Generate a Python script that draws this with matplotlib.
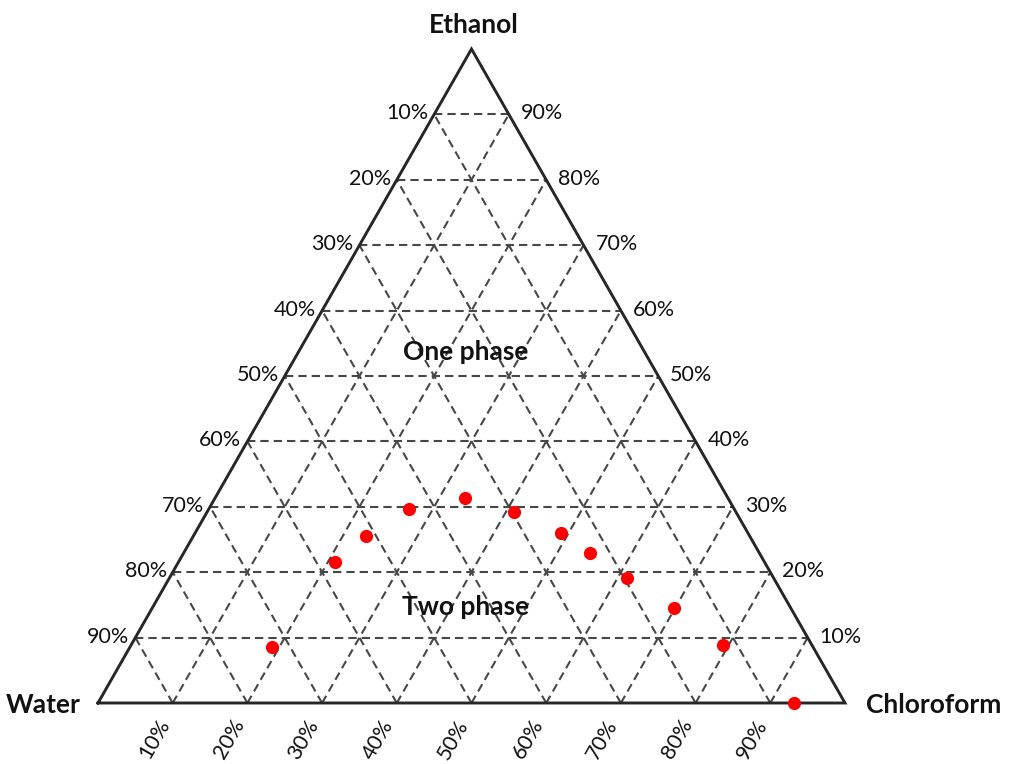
import matplotlib
matplotlib.use("Agg")
import matplotlib.pyplot as plt
from matplotlib.transforms import offset_copy

plt.rcParams['font.family'] = ['Lato', 'DejaVu Sans']

# Measured compositions (percent) of the binodal points
water = [72.4, 57.5, 51.4, 43.6, 35.2, 29.7, 25.0, 22.6, 19.6, 15.6, 11.9, 6.8]
ethanol = [8.6, 21.5, 25.5, 29.6, 31.3, 29.2, 26.0, 23.0, 19.1, 14.5, 8.8, 0.0]
chloroform = [19.0, 21.0, 23.1, 26.8, 33.5, 41.1, 49.0, 54.4, 61.3, 69.9, 79.3, 93.2]

grid_levels = [10, 20, 30, 40, 50, 60, 70, 80, 90]
tick_labels = [f"{v}%" for v in grid_levels]
components = {"top": "Ethanol", "left": "Water", "right": "Chloroform"}
regions = {"One phase": (22.4, 53.7), "Two phase": (41.8, 14.7)}  # (chloroform, ethanol)


def to_xy(c, e):
    """Ternary (chloroform, ethanol) fractions -> Cartesian; water vertex at origin."""
    return c + e / 2.0, e


fig = plt.figure(figsize=(10.11, 7.64), dpi=100)
ax = fig.add_axes([98 / 1011, 61 / 764, 747 / 1011, 654 / 764])
ax.set_xlim(0, 1)
ax.set_ylim(0, 1)
ax.axis("off")

grid_kw = dict(color="#474747", lw=1.5, dashes=(4, 2.4), zorder=1, clip_on=False)
for lv in grid_levels:
    f = lv / 100.0
    # constant ethanol (horizontal)
    x0, y0 = to_xy(0, f)
    x1, y1 = to_xy(1 - f, f)
    ax.plot([x0, x1], [y0, y1], **grid_kw)
    # constant chloroform
    x0, y0 = to_xy(f, 0)
    x1, y1 = to_xy(f, 1 - f)
    ax.plot([x0, x1], [y0, y1], **grid_kw)
    # constant water
    x0, y0 = to_xy(1 - f, 0)
    x1, y1 = to_xy(0, 1 - f)
    ax.plot([x0, x1], [y0, y1], **grid_kw)

# triangle outline
corners = [to_xy(0, 0), to_xy(1, 0), to_xy(0, 1), to_xy(0, 0)]
ax.plot([p[0] for p in corners], [p[1] for p in corners], color="#262626",
        lw=2.1, solid_joinstyle="miter", zorder=2, clip_on=False)

# data points
px, py = zip(*[to_xy(c / 100.0, e / 100.0) for c, e in zip(chloroform, ethanol)])
ax.plot(px, py, "o", color="#ff0000", ms=9.5, mec="none", zorder=3, clip_on=False)

tick_fs = 15.5
for lv, lab in zip(grid_levels, tick_labels):
    f = lv / 100.0
    # water scale along the left edge
    x, y = to_xy(0, 1 - f)
    ax.text(x, y, lab, fontsize=tick_fs, ha="right", va="center", color="#111111",
            transform=offset_copy(ax.transData, fig=fig, x=-6, y=1, units="dots"))
    # ethanol scale along the right edge
    x, y = to_xy(1 - f, f)
    ax.text(x, y, lab, fontsize=tick_fs, ha="left", va="center", color="#111111",
            transform=offset_copy(ax.transData, fig=fig, x=12, y=1, units="dots"))
    # chloroform scale along the base
    x, y = to_xy(f, 0)
    ax.text(x, y, lab, fontsize=tick_fs, ha="right", va="top", rotation=60,
            color="#111111",
            transform=offset_copy(ax.transData, fig=fig, x=1, y=-13, units="dots"))

name_fs = 19
x, y = to_xy(0, 1)
ax.text(x, y, components["top"], fontsize=name_fs, fontweight="bold", ha="center",
        va="bottom", color="#111111",
        transform=offset_copy(ax.transData, fig=fig, x=2, y=12, units="dots"))
x, y = to_xy(0, 0)
ax.text(x, y, components["left"], fontsize=name_fs, fontweight="bold", ha="right",
        va="center", color="#111111",
        transform=offset_copy(ax.transData, fig=fig, x=-17, y=-2, units="dots"))
x, y = to_xy(1, 0)
ax.text(x, y, components["right"], fontsize=name_fs, fontweight="bold", ha="left",
        va="center", color="#111111",
        transform=offset_copy(ax.transData, fig=fig, x=21, y=-2, units="dots"))

for name, (c, e) in regions.items():
    x, y = to_xy(c / 100.0, e / 100.0)
    ax.text(x, y, name, fontsize=name_fs, fontweight="bold", ha="center",
            va="center", color="#111111", zorder=4)

fig.savefig("out.png", dpi=100, facecolor="white")
